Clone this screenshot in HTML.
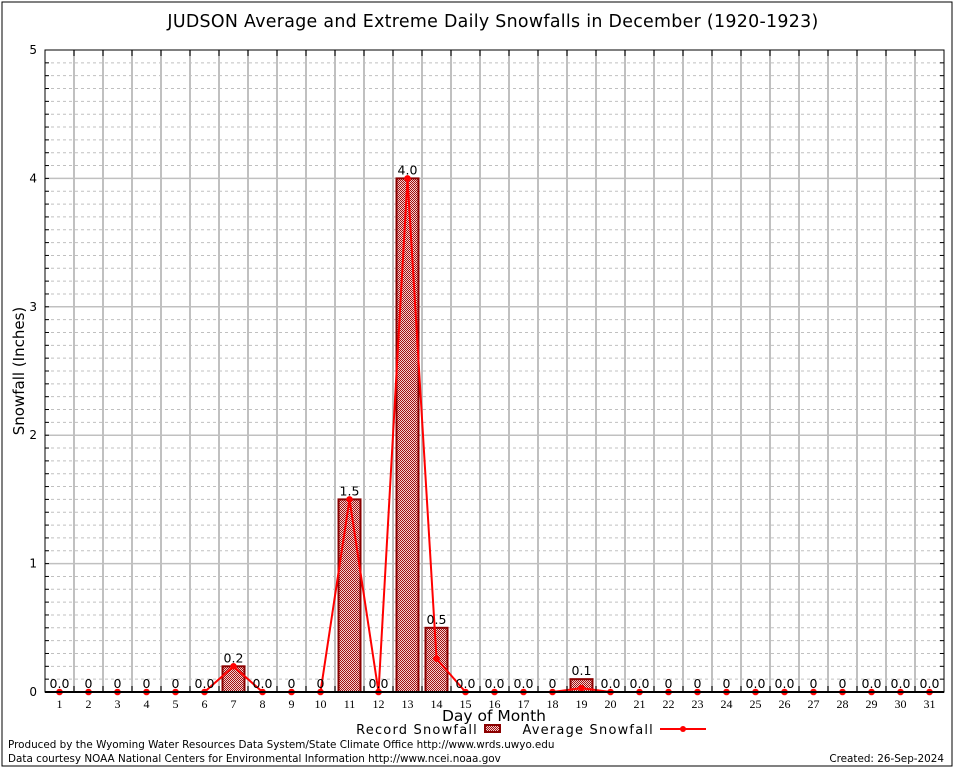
<!DOCTYPE html>
<html><head><meta charset="utf-8"><style>
body{margin:0;background:#fff;}
svg{display:block;font-family:"DejaVu Sans","Liberation Sans",sans-serif;}
</style></head><body>
<svg id="c" width="954" height="768" xmlns="http://www.w3.org/2000/svg">
<defs>
<pattern id="hatch" width="2" height="2" patternUnits="userSpaceOnUse">
<rect width="2" height="2" fill="#f4d0d0"/>
<rect width="1" height="1" fill="#a01010"/>
<rect x="1" y="1" width="1" height="1" fill="#a01010"/>
</pattern>
</defs>
<rect x="2" y="2" width="950" height="764" fill="#fff" stroke="#000" stroke-width="1"/>
<text x="493" y="27" text-anchor="middle" font-size="17.4" letter-spacing="0.3">JUDSON Average and Extreme Daily Snowfalls in December (1920-1923)</text>
<g id="grid"></g>
<g id="bars"></g>
<g id="line"></g>
<g id="labels"></g>
<g id="axes"></g>
<text x="24" y="371" text-anchor="middle" font-size="15" transform="rotate(-90 24 371)">Snowfall (Inches)</text>
<text x="494" y="721" text-anchor="middle" font-size="15.5">Day of Month</text>
<g>
<text x="478" y="734" text-anchor="end" font-size="13" letter-spacing="1.2">Record Snowfall</text>
<rect x="485" y="725" width="15" height="7" fill="url(#hatch)" stroke="#8b0000" stroke-width="2"/>
</g>
<g>
<text x="654" y="734" text-anchor="end" font-size="13" letter-spacing="1.2">Average Snowfall</text>
<line x1="660" y1="729" x2="706" y2="729" stroke="#ff0000" stroke-width="2"/>
<circle cx="683" cy="729" r="3" fill="#ff0000"/>
</g>
<text x="8" y="748" font-size="10.4">Produced by the Wyoming Water Resources Data System/State Climate Office http://www.wrds.uwyo.edu</text>
<text x="8" y="762" font-size="10.4">Data courtesy NOAA National Centers for Environmental Information http://www.ncei.noaa.gov</text>
<text x="944" y="762" text-anchor="end" font-size="10.4">Created: 26-Sep-2024</text>
</svg>
<script>
const days=[1,2,3,4,5,6,7,8,9,10,11,12,13,14,15,16,17,18,19,20,21,22,23,24,25,26,27,28,29,30,31];
const recordVals=[0,0,0,0,0,0,0.2,0,0,0,1.5,0,4.0,0.5,0,0,0,0,0.1,0,0,0,0,0,0,0,0,0,0,0,0];
const recordLabels=["0.0","0","0","0","0","0.0","0.2","0.0","0","0","1.5","0.0","4.0","0.5","0.0","0.0","0.0","0","0.1","0.0","0.0","0","0","0","0.0","0.0","0","0","0.0","0.0","0.0"];
const avgVals=[0,0,0,0,0,0,0.2,0,0,0,1.5,0,4.0,0.26,0,0,0,0,0.03,0,0,0,0,0,0,0,0,0,0,0,0];
const yTicks=[0,1,2,3,4,5];
const L=45,R=944,T=50,B=692,ymax=5;
const step=(R-L)/days.length;
const xs=d=>L+step*(d-0.5);
const ys=v=>B-(B-T)*v/ymax;
const NS="http://www.w3.org/2000/svg";
function mk(tag,attrs,parent,txt){const e=document.createElementNS(NS,tag);for(const k in attrs)e.setAttribute(k,attrs[k]);if(txt!==undefined)e.textContent=txt;document.getElementById(parent).appendChild(e);return e;}
for(let i=1;i<ymax*10;i++){if(i%10===0)continue;const y=ys(i/10);const g=mk('line',{x1:L,x2:R,y1:y,y2:y,stroke:'#c0c0c0','stroke-dasharray':'3,3','stroke-width':1},'grid');

}
for(let i=1;i<days.length;i++){const x=L+step*i;const g=mk('line',{x1:x,x2:x,y1:T,y2:B,stroke:'#c0c0c0','stroke-width':2},'grid');

}
yTicks.forEach(t=>{if(t===0||t===ymax)return;const g=mk('line',{x1:L,x2:R,y1:ys(t),y2:ys(t),stroke:'#c0c0c0','stroke-width':1.5},'grid');

});
days.forEach((d,i)=>{const v=recordVals[i];if(v<=0)return;const w=22;const b=mk('rect',{x:xs(d)-w/2,y:ys(v),width:w,height:B-ys(v),fill:'url(#hatch)',stroke:'#8b0000','stroke-width':2},'bars');

});
const pts=days.map((d,i)=>xs(d)+','+ys(avgVals[i])).join(' ');
const pl=mk('polyline',{points:pts,fill:'none',stroke:'#ff0000','stroke-width':2},'line');


days.forEach((d,i)=>{const c=mk('circle',{cx:xs(d),cy:ys(avgVals[i]),r:3.3,fill:'#ff0000'},'line');

});
days.forEach((d,i)=>{const t=mk('text',{x:xs(d),y:ys(recordVals[i])-4,'text-anchor':'middle','font-size':12.5},'labels',recordLabels[i]);

});
const fr=mk('rect',{x:L,y:T,width:R-L,height:B-T,fill:'none',stroke:'#000','stroke-width':1},'axes');


const ba=mk('line',{x1:L,x2:R,y1:B,y2:B,stroke:'#000','stroke-width':2},'axes');


for(let i=1;i<ymax*10;i++){const y=ys(i/10);mk('line',{x1:L,x2:L+4,y1:y,y2:y,stroke:'#000'},'axes');mk('line',{x1:R-4,x2:R,y1:y,y2:y,stroke:'#000'},'axes');}
for(let i=1;i<days.length;i++){const x=L+step*i;mk('line',{x1:x,x2:x,y1:T,y2:T+6,stroke:'#000'},'axes');mk('line',{x1:x,x2:x,y1:B-6,y2:B,stroke:'#000'},'axes');}
yTicks.forEach(t=>{const tl=mk('text',{x:L-8,y:ys(t)+4,'text-anchor':'end','font-size':12},'axes',String(t));

});
days.forEach(d=>{const tl=mk('text',{x:xs(d),y:B+16,'text-anchor':'middle','font-size':12,'font-family':'Liberation Serif, serif'},'axes',String(d));

});
</script>
</body></html>
